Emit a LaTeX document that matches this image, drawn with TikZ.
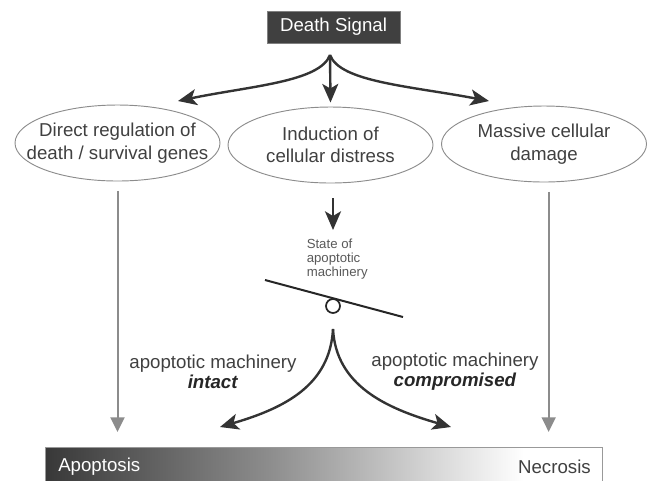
\documentclass[tikz,border=0pt]{standalone}
\usepackage{fontspec}
\setmainfont{Liberation Sans}
\usetikzlibrary{arrows.meta,shapes.geometric}
\pgfdeclarehorizontalshading{barshade}{100bp}{color(0bp)=(black!78); color(25bp)=(black!78); color(45bp)=(black!45); color(68bp)=(white); color(100bp)=(white)}
\begin{document}
\begin{tikzpicture}[x=0.75pt,y=-0.75pt,
  txt/.style={font=\fontsize{14}{16.8}\selectfont, text=black!75, align=center, inner sep=0pt},
  small/.style={font=\fontsize{9.9}{10.6}\selectfont, text=black!65, align=left, inner sep=0pt},
  oval/.style={ellipse, draw=black!45, line width=0.7pt, minimum width=153.75pt, minimum height=57pt, inner sep=0pt},
  darr/.style={draw=black!80, line width=1.8pt, -{Stealth[length=14pt,width=12pt,inset=3.5pt]}},
  garr/.style={draw=black!45, line width=1.5pt, -{Triangle[length=11pt,width=10.5pt]}},
]
\useasboundingbox (0,0) rectangle (648,480);

% Death signal
\node[fill=black!75, draw=black!50, line width=0.6pt, minimum width=99.75pt, minimum height=24pt,
      font=\fontsize{14}{16}\selectfont, text=white] (ds) at (333.5,27) {Death Signal};
\coordinate (top) at (330,55);
\coordinate (ltip) at (178,101);
\coordinate (rtip) at (489,101);

% ellipses
\node[oval] (l) at (117.5,143) {};
\node[oval] (c) at (330.5,145) {};
\node[oval] (r) at (544,144) {};
\node[txt] (lt) at (l.center) {Direct regulation of\\death / survival genes};
\node[txt] (ct) at (c.center) {Induction of\\cellular distress};
\node[txt] (rt) at (r.center) {Massive cellular\\damage};

\draw[darr] (top) .. controls (320,82) and (250,86) .. (ltip);
\draw[darr] (top) .. controls (340,82) and (410,86) .. (rtip);
\draw[darr] (top) -- ([yshift=3pt]c.north);

% bar
\shade[shading=barshade] (45,447) rectangle (602,482);
\node[draw=black!40, line width=0.6pt, minimum width=417.75pt, minimum height=26.25pt, inner sep=0pt] (bar) at (323.5,464.5) {};
\node[txt, text=white, anchor=west] (apo) at (58,467) {Apoptosis};
\node[txt, anchor=east] (nec) at (591,467) {Necrosis};

% gray arrows
\draw[garr, shorten <=7pt, shorten >=11pt] (l.south) -- (l.south |- bar.north);
\draw[garr, shorten <=7pt, shorten >=11pt] ([xshift=3.5pt]r.south) -- ([xshift=3.5pt]r.south |- bar.north);

% state of machinery
\draw[darr] ([yshift=-11pt]c.south -| 333,0) coordinate (cs) -- (333,230) coordinate (ce);
\node[small, anchor=north west] (state) at (306.5,238.5) {State of\\apoptotic\\machinery};
\coordinate (s1) at (265,280);
\coordinate (s2) at (403,317);
\draw[line width=1.5pt, black!85] (s1) -- (s2);
\node[circle, draw=black!85, line width=1.3pt, minimum size=10.5pt, inner sep=0pt] (fulc) at (333,306) {};

% split arrows
\coordinate (split) at (333,329);
\coordinate (atip) at (220,427);
\coordinate (ntip) at (451,427);
\draw[darr] (split) .. controls (330,385) and (285,408) .. (atip);
\draw[darr] (split) .. controls (336,385) and (385,408) .. (ntip);

\node[txt, font=\fontsize{14}{15}\selectfont] (il) at (213,372) {apoptotic machinery\\\textcolor{black!85}{\textbf{\textit{intact}}}};
\node[txt, font=\fontsize{14}{15}\selectfont] (cl) at (455,372) {apoptotic machinery\\\textcolor{black!85}{\textbf{\textit{compromised}}}};
\end{tikzpicture}
\end{document}
